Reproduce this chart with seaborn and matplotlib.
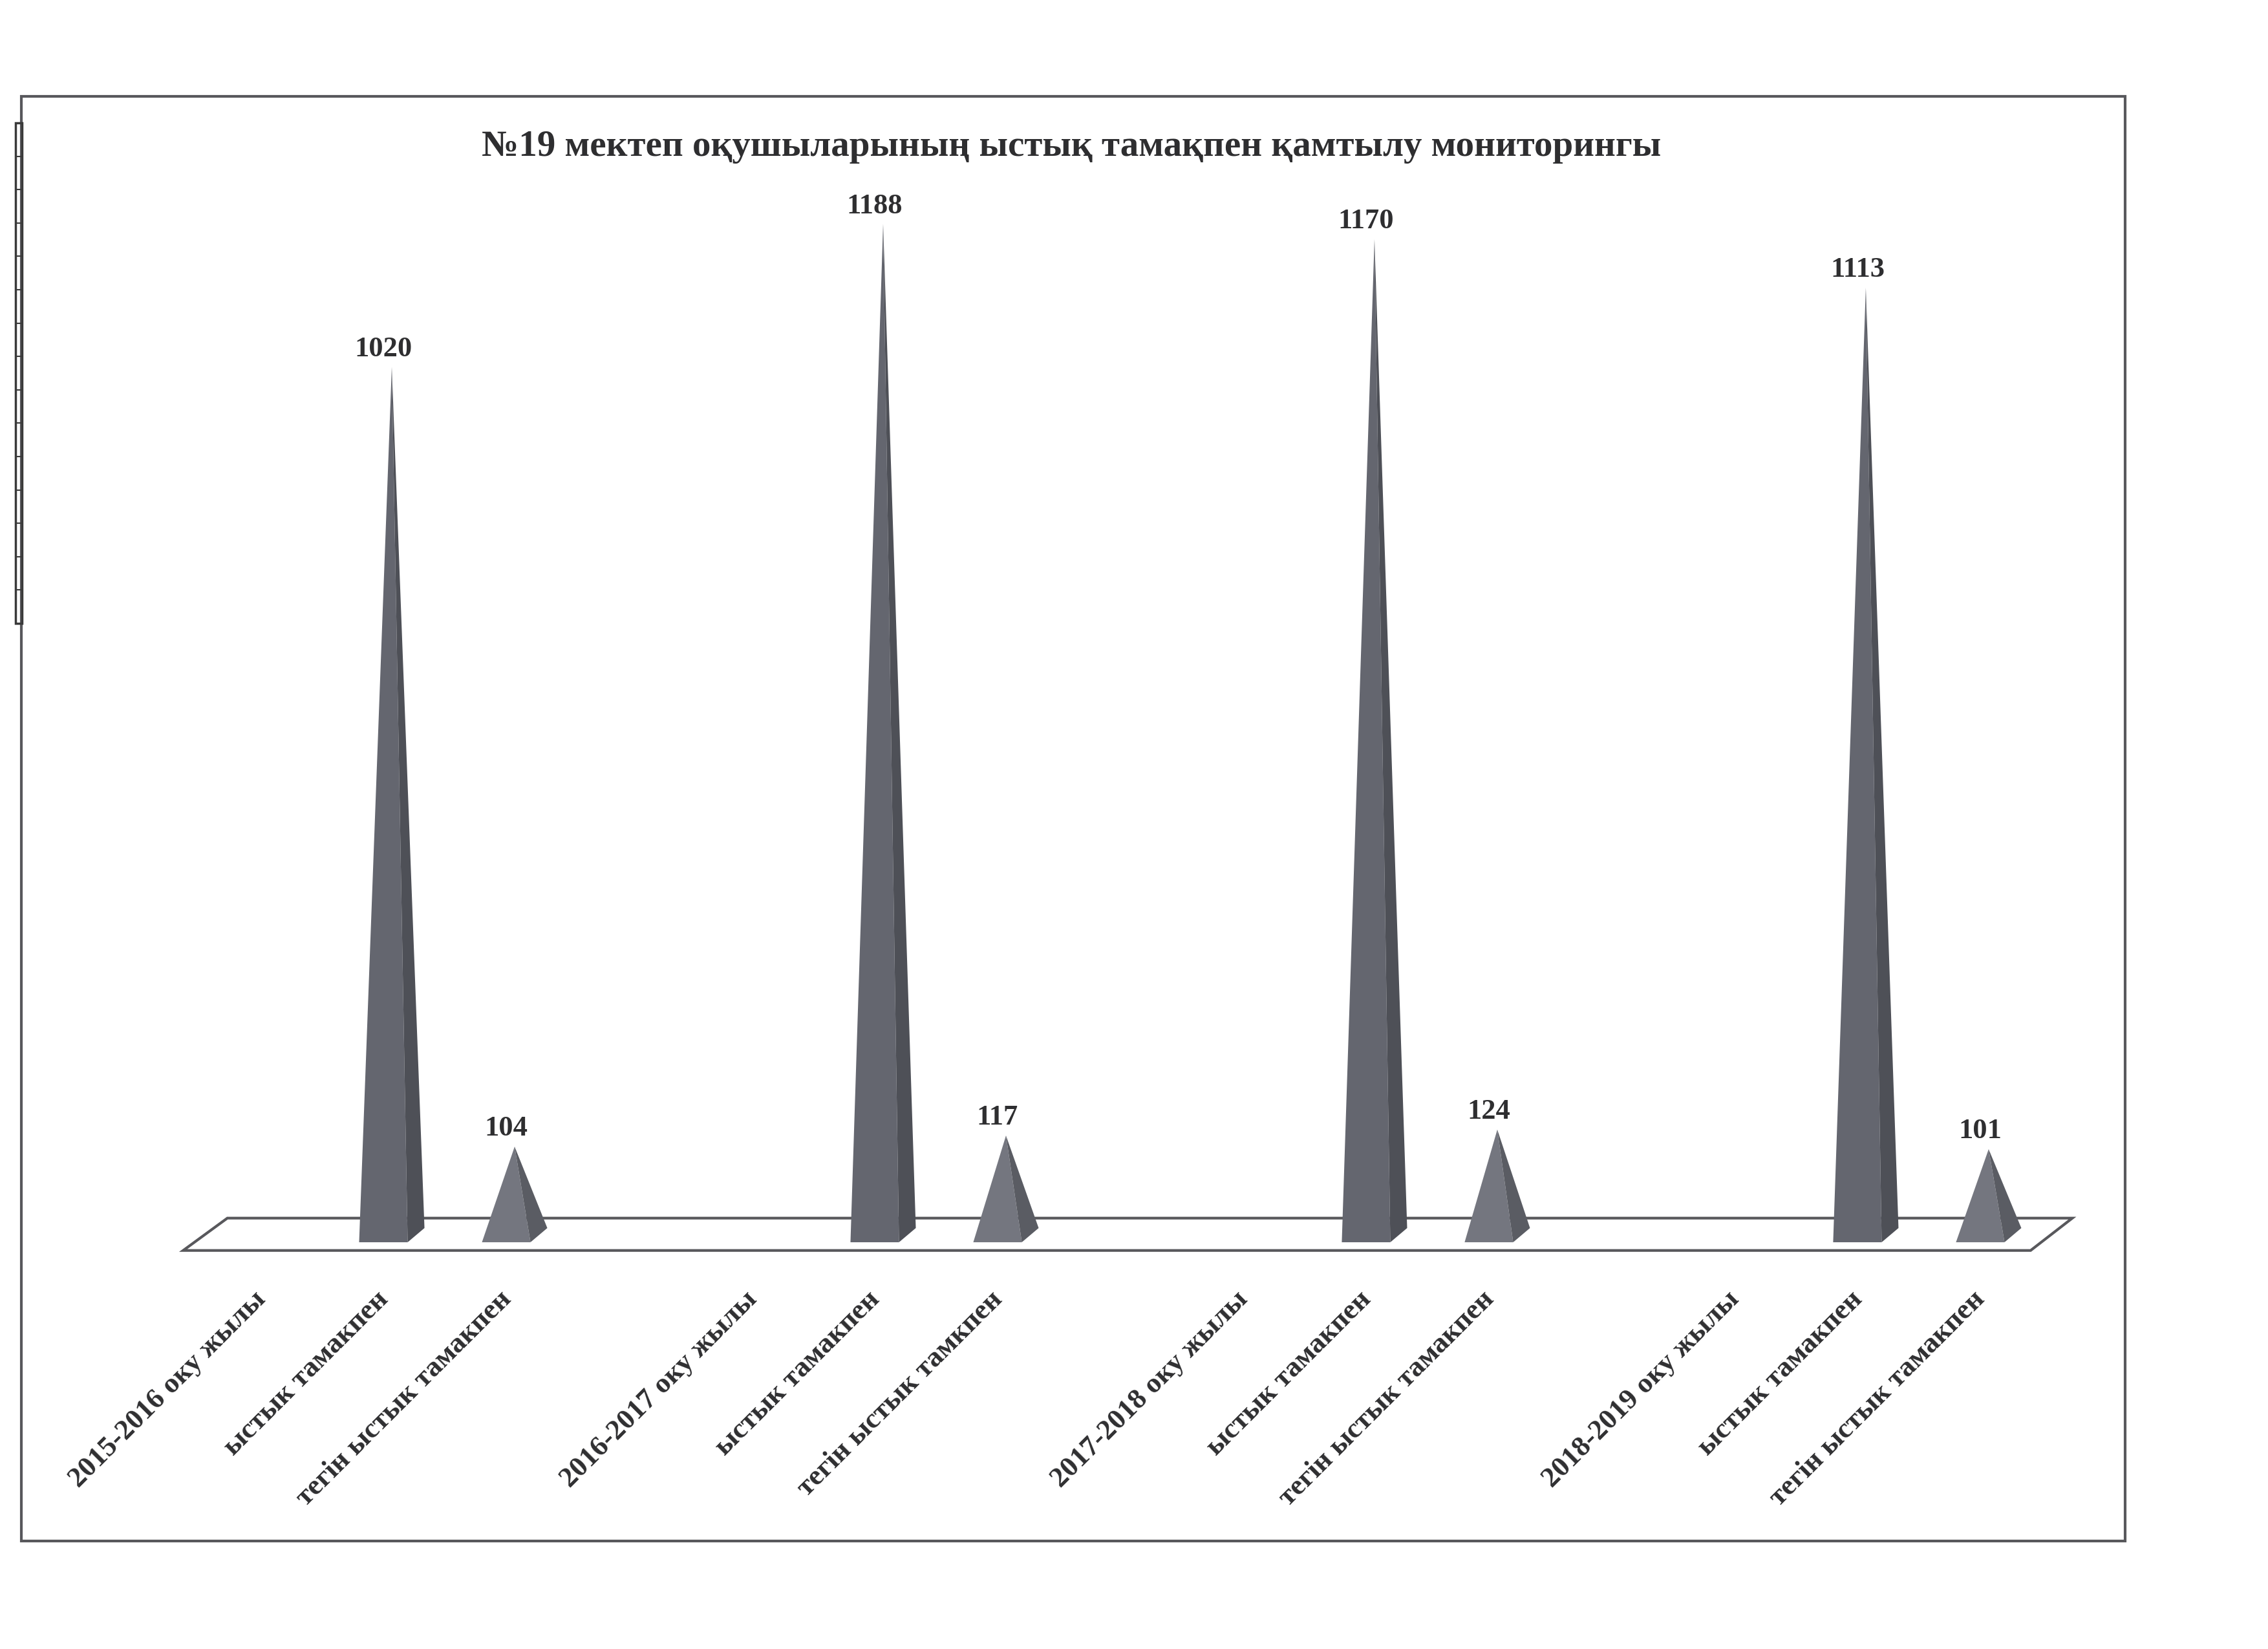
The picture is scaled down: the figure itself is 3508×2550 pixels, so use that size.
import matplotlib
matplotlib.use("Agg")
import matplotlib.pyplot as plt
import matplotlib.transforms as mtransforms
from matplotlib.colors import to_rgb
from matplotlib.patches import Polygon, Rectangle
import numpy as np
import pandas as pd
import seaborn as sns

# chart data
TITLE = "№19 мектеп оқушыларының ыстық тамақпен қамтылу мониторингы"
YEARS = ["2015-2016 оку жылы", "2016-2017 оку жылы", "2017-2018 оку жылы", "2018-2019 оку жылы"]
HOT_LABELS = ["ыстык тамакпен", "ыстык тамакпен", "ыстык тамакпен", "ыстык тамакпен"]
FREE_LABELS = ["тегін ыстык тамакпен", "тегін ыстык тамкпен", "тегін ыстык тамакпен", "тегін ыстык тамакпен"]
HOT = [1020, 1188, 1170, 1113]
FREE = [104, 117, 124, 101]

TEXT = "#2e2e30"
EDGE = "#58585c"
PALETTE = {"hot": "#64666f", "free": "#74767f"}

# pyramid geometry (in slot / value units)
BAR_W = 0.395
DEPTH_X = 0.137
DEPTH_Y = 16.7


def build_slots():
    """One slot per category label, with an empty spacer slot between years."""
    order, labels, rows = [], [], []
    for i, year in enumerate(YEARS):
        group = [(year, None, None), (HOT_LABELS[i], HOT[i], "hot"), (FREE_LABELS[i], FREE[i], "free")]
        if i < len(YEARS) - 1:
            group.append(("", None, None))
        for label, value, kind in group:
            key = f"s{len(order)}"
            order.append(key)
            labels.append(label)
            if value is not None:
                rows.append({"slot": key, "value": value, "kind": kind})
    return order, labels, pd.DataFrame(rows)


def shade(color, factor):
    r, g, b = to_rgb(color)
    return (r * factor, g * factor, b * factor)


def draw_pyramids(ax):
    """Turn the seaborn bars into Excel-style 3D pyramids."""
    bars = [p for p in ax.patches
            if isinstance(p, Rectangle) and np.isfinite(p.get_height()) and p.get_height() > 0]
    for p in bars:
        w = p.get_width()
        cx = p.get_x() + w / 2
        v = p.get_height()
        fc = p.get_facecolor()
        front_l = (cx - w / 2, -DEPTH_Y / 2)
        front_r = (cx + w / 2, -DEPTH_Y / 2)
        back_r = (cx + w / 2 + DEPTH_X, DEPTH_Y / 2)
        apex = (cx + DEPTH_X / 2, v)
        ax.add_patch(Polygon([front_l, front_r, apex], closed=True, facecolor=fc,
                             edgecolor="none", zorder=4, clip_on=False))
        ax.add_patch(Polygon([front_r, back_r, apex], closed=True, facecolor=shade(fc, 0.78),
                             edgecolor="none", zorder=4, clip_on=False))
        ax.annotate(f"{v:.0f}", xy=(cx, v), xytext=(0, 12), textcoords="offset points",
                    ha="center", va="baseline", fontsize=32, fontweight="bold", color=TEXT)
        p.remove()


def main():
    order, tick_labels, df = build_slots()

    sns.set_theme(style="white")
    plt.rcParams["font.family"] = ["Liberation Serif", "DejaVu Serif"]

    fig = plt.figure(figsize=(35.08, 25.5), dpi=100)
    fig.patch.set_facecolor("white")
    ax = fig.add_axes([0.0878, 0.2200, 0.8124, 0.7020])
    ax.set_facecolor("none")

    sns.barplot(data=df, x="slot", y="value", hue="kind", order=order, palette=PALETTE,
                width=BAR_W, dodge=False, saturation=1, errorbar=None, legend=False, ax=ax)

    n = len(order)
    ax.set_xlim(-0.5, n - 0.5)
    ax.set_ylim(-60, 1300)

    draw_pyramids(ax)

    # floor plate under the pyramids
    floor = [(-0.63, -18), (n - 0.59, -18), (n - 0.25, 20), (-0.27, 20)]
    ax.add_patch(Polygon(floor, closed=True, facecolor="white", edgecolor=EDGE,
                         linewidth=3, zorder=2, clip_on=False))

    sns.despine(ax=ax, left=True, bottom=True)
    ax.set_xlabel("")
    ax.set_ylabel("")
    ax.set_yticks([])
    ax.set_xticks(range(n))
    ax.set_xticklabels(tick_labels, rotation=45, ha="right", rotation_mode="anchor",
                       fontsize=32, fontweight="bold", color=TEXT)
    ax.tick_params(axis="x", length=0, pad=0)
    shift = mtransforms.ScaledTranslation(-13 / 100, 0, fig.dpi_scale_trans)
    for lbl in ax.get_xticklabels():
        lbl.set_transform(lbl.get_transform() + shift)

    fig.text(0.4724, 0.9055, TITLE, ha="center", va="baseline", fontsize=41,
             fontweight="bold", color=TEXT)

    # outer chart frame
    fig.add_artist(Rectangle((0.0094, 0.0655), 0.9276, 0.8760, transform=fig.transFigure,
                             facecolor="none", edgecolor=EDGE, linewidth=3))
    # ruler strip at the left page edge of the scan
    fig.add_artist(Rectangle((0.0068, 0.622), 0.0029, 0.3035, transform=fig.transFigure,
                             facecolor="none", edgecolor="#3a3a3a", linewidth=2.5))
    for y in np.linspace(0.622, 0.9255, 16)[1:-1]:
        fig.add_artist(plt.Line2D([0.0068, 0.0097], [y, y], transform=fig.transFigure,
                                  color="#3a3a3a", linewidth=1.5))

    fig.savefig("out.png", dpi=100, facecolor="white")
    plt.close(fig)


if __name__ == "__main__":
    main()
